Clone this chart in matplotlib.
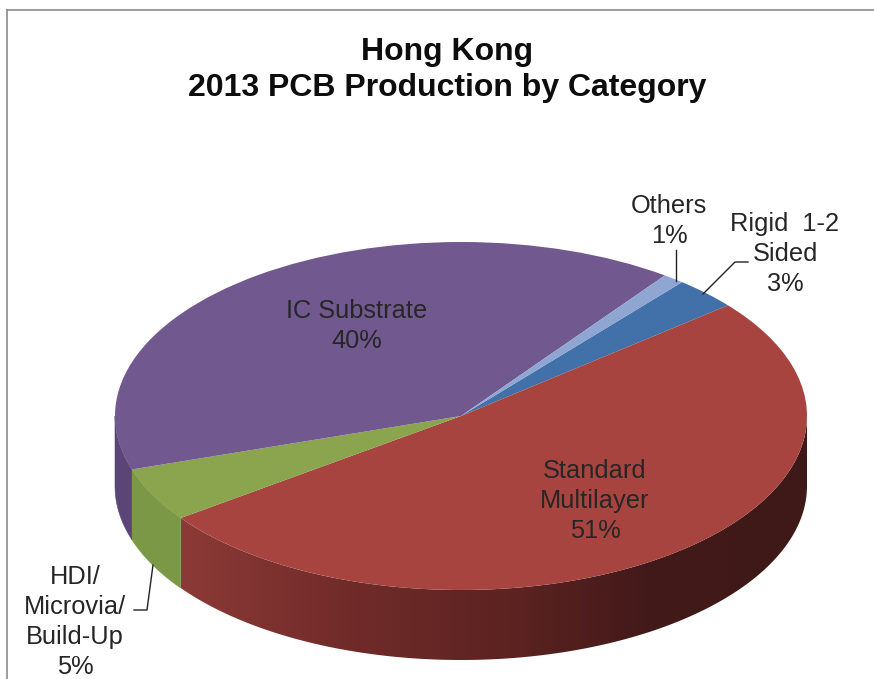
import numpy as np
import matplotlib
matplotlib.use("Agg")
import matplotlib.pyplot as plt
from matplotlib.colors import to_rgb
from matplotlib.patches import Polygon

plt.rcParams['font.family'] = ['Liberation Sans', 'DejaVu Sans']

# slices, clockwise from the top right
categories = ["Rigid  1-2\nSided", "Standard\nMultilayer", "HDI/\nMicrovia/\nBuild-Up", "IC Substrate", "Others"]
shares = [3, 51, 5, 40, 1]
top_colors = ["#4271aa", "#a84440", "#8aa54e", "#71588f", "#8fa5d2"]
wall_colors = ["#355a88", "#7a302d", "#7a9845", "#5b4476", "#7285a8"]
start_angle = 50.3

title_lines = "Hong Kong\n2013 PCB Production by Category"

W, H = 874, 679
cx, cy = 461, 416    # ellipse centre in pixels
rx, ry = 346, 174
depth = 70 / ry

fig = plt.figure(figsize=(W / 100, H / 100), dpi=100)
ax = fig.add_axes([0, 0, 1, 1])

# side walls first, only the part of the rim facing us
edges = start_angle - np.cumsum([0] + shares) * 3.6
for i, share in enumerate(shares):
    lo, hi = edges[i + 1], edges[i]
    # visible rim is 180..360 degrees
    for shift in (0, 360):
        l, h = max(lo + shift, 180), min(hi + shift, 360)
        if h <= l:
            continue
        t = np.radians(np.linspace(l, h, 120))
        xs = np.cos(t)
        ys = np.sin(t)
        wall_x = np.r_[xs, xs[::-1]]
        wall_y = np.r_[ys, ys[::-1] - depth]
        if i == 1:
            # the long red side gets darker to the right
            stops_x = [0.0, 0.25, 0.55, 0.75, 1.0]
            stops_c = [to_rgb(c) for c in ["#8c3a37", "#722c2a", "#5a2220", "#42191a", "#3e1a17"]]
            f = np.linspace(0, 1, 400)
            strip = np.stack([np.interp(f, stops_x, [c[k] for c in stops_c]) for k in range(3)], axis=1)[None, :, :]
            im = ax.imshow(strip, extent=[xs.min(), xs.max(), wall_y.min(), wall_y.max()],
                           aspect="auto", interpolation="bilinear", zorder=1)
            clip = Polygon(np.c_[wall_x, wall_y], closed=True, transform=ax.transData,
                           facecolor="none", edgecolor="none")
            ax.add_patch(clip)
            im.set_clip_path(clip)
        else:
            ax.fill(wall_x, wall_y, color=wall_colors[i], lw=0.4, zorder=1)

ax.pie(shares, colors=top_colors, startangle=start_angle, counterclock=False,
       radius=1, wedgeprops={"linewidth": 0, "zorder": 2})
ax.set_aspect("auto")
ax.set_xlim(-cx / rx, (W - cx) / rx)
ax.set_ylim((cy - H) / ry, cy / ry)
ax.axis("off")

# overlay in pixels for frame, title, labels
ov = fig.add_axes([0, 0, 1, 1])
ov.set_xlim(0, W)
ov.set_ylim(H, 0)
ov.axis("off")
ov.patch.set_alpha(0)

ov.plot([7, W], [10, 10], color="#8c8c8c", lw=1.2)
ov.plot([7, 7], [10, H], color="#8c8c8c", lw=1.2)

ov.text(447, 70, title_lines, ha="center", va="center", fontsize=23, fontweight="bold",
        color="#0d0d0d", linespacing=1.3)

label_spots = [(785, 254), (595, 501), (75, 622), (357, 326), (669, 221)]
for name, share, (x, y) in zip(categories, shares, label_spots):
    ov.text(x, y, name + "\n" + str(share) + "%", ha="center", va="center",
            fontsize=18.3, color="#262626", linespacing=1.3)

ov.plot([676, 676], [250, 281], color="#222222", lw=1)
ov.plot([703, 735, 748], [294, 262, 262], color="#222222", lw=1)
ov.plot([153, 147, 134], [565, 610, 610], color="#222222", lw=1)

fig.savefig("out.png", dpi=100)
